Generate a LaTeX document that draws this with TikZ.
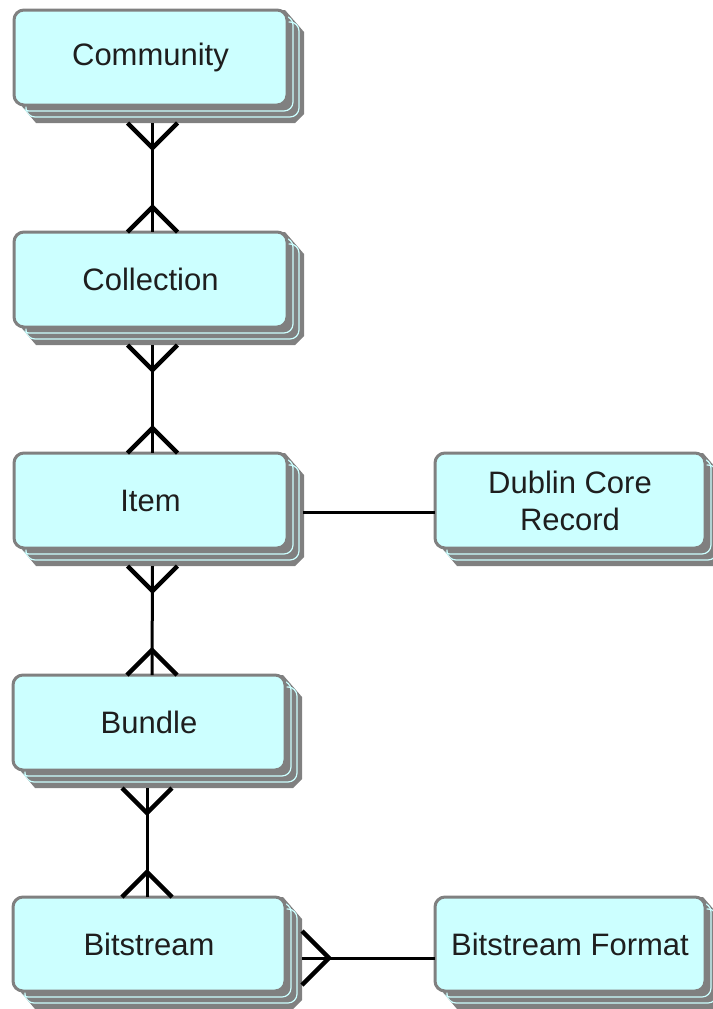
\documentclass[tikz,border=0pt]{standalone}
\usepackage{fontspec}
\setmainfont{Liberation Sans}
\usetikzlibrary{calc}
\definecolor{boxfill}{HTML}{CCFFFF}
\definecolor{boxgray}{HTML}{808080}
\definecolor{txt}{HTML}{1E1E1E}
\tikzset{
  frontbox/.style={draw=boxgray, line width=3pt, fill=boxfill, rounded corners=10pt,
    inner sep=0pt, outer sep=0pt, align=center, text=txt,
    font=\fontsize{31}{37}\selectfont},
  stackline/.style={draw=boxfill, line width=1.2pt, rounded corners=9pt},
  conn/.style={line width=3pt, draw=black},
  foot/.style={line width=4.5pt, draw=black, line cap=butt, line join=miter},
}
\newcommand\erbox[6]{%
  \pgfmathsetmacro\erw{#4-#2}\pgfmathsetmacro\erh{#5-#3}%
  \fill[boxgray] ({#2},{#3+8}) -- ({#2},{#5-8}) -- ({#2+22},{#5+18}) -- ({#4+8},{#5+18})
     -- ({#4+17},{#5+9}) -- ({#4+17},{#3+22}) -- ({#4-2},{#3}) -- ({#2+8},{#3}) -- cycle;
  \begin{scope}
    \clip ({#2},{#3+8}) -- ({#2},{#5-8}) -- ({#2+22},{#5+18}) -- ({#4+8},{#5+18})
     -- ({#4+17},{#5+9}) -- ({#4+17},{#3+22}) -- ({#4-2},{#3}) -- ({#2+8},{#3}) -- cycle;
    \draw[stackline] ({#2+6},{#3+6}) rectangle ({#4+6},{#5+6});
    \draw[stackline] ({#2+12},{#3+12}) rectangle ({#4+12},{#5+12});
  \end{scope}
  \node[frontbox, minimum width=\erw pt, minimum height=\erh pt] (#1) at ({(#2+#4)/2},{(#3+#5)/2}) {#6};
}
\begin{document}
\begin{tikzpicture}[x=1pt,y=-1pt]
\fill[white] (0,0) rectangle (712,1009);
\useasboundingbox (0,0) rectangle (712,1009);

\erbox{com}{14}{10}{287}{105}{Community}
\erbox{col}{14}{232}{287}{327}{Collection}
\erbox{item}{14}{453}{287}{548}{Item}
\erbox{bun}{13}{675}{285}{770}{Bundle}
\erbox{bit}{13}{897}{285}{991}{Bitstream}
\erbox{dc}{435}{453}{705}{548}{Dublin Core\\Record}
\erbox{bf}{435}{897}{705}{991}{Bitstream Format}

% Community -- Collection (many to many)
\draw[conn] ($(com.south)+(2,18)$) -- ($(col.north)+(2,0)$);
\draw[foot] ($(com.south)+(-23,18)$) -- ($(com.south)+(2,43)$) -- ($(com.south)+(27,18)$);
\draw[foot] ($(col.north)+(-23,0)$) -- ($(col.north)+(2,-25)$) -- ($(col.north)+(27,0)$);

% Collection -- Item
\draw[conn] ($(col.south)+(2,18)$) -- ($(item.north)+(2,0)$);
\draw[foot] ($(col.south)+(-23,18)$) -- ($(col.south)+(2,43)$) -- ($(col.south)+(27,18)$);
\draw[foot] ($(item.north)+(-23,0)$) -- ($(item.north)+(2,-25)$) -- ($(item.north)+(27,0)$);

% Item -- Bundle
\draw[conn] ($(item.south)+(2,18)$) -- ($(bun.north)+(3,0)$);
\draw[foot] ($(item.south)+(-23,18)$) -- ($(item.south)+(2,43)$) -- ($(item.south)+(27,18)$);
\draw[foot] ($(bun.north)+(-22,0)$) -- ($(bun.north)+(3,-25)$) -- ($(bun.north)+(28,0)$);

% Bundle -- Bitstream
\draw[conn] ($(bun.south)+(-2,18)$) -- ($(bit.north)+(-2,0)$);
\draw[foot] ($(bun.south)+(-27,18)$) -- ($(bun.south)+(-2,43)$) -- ($(bun.south)+(23,18)$);
\draw[foot] ($(bit.north)+(-27,0)$) -- ($(bit.north)+(-2,-25)$) -- ($(bit.north)+(23,0)$);

% Item -- Dublin Core Record
\draw[conn] ($(item.east)+(16,12)$) -- ($(dc.west)+(0,12)$);

% Bitstream -- Bitstream Format
\draw[conn] ($(bit.east)+(17,14)$) -- ($(bf.west)+(0,14)$);
\draw[foot] ($(bit.east)+(17,-13)$) -- ($(bit.east)+(44,14)$) -- ($(bit.east)+(17,41)$);
\end{tikzpicture}
\end{document}
